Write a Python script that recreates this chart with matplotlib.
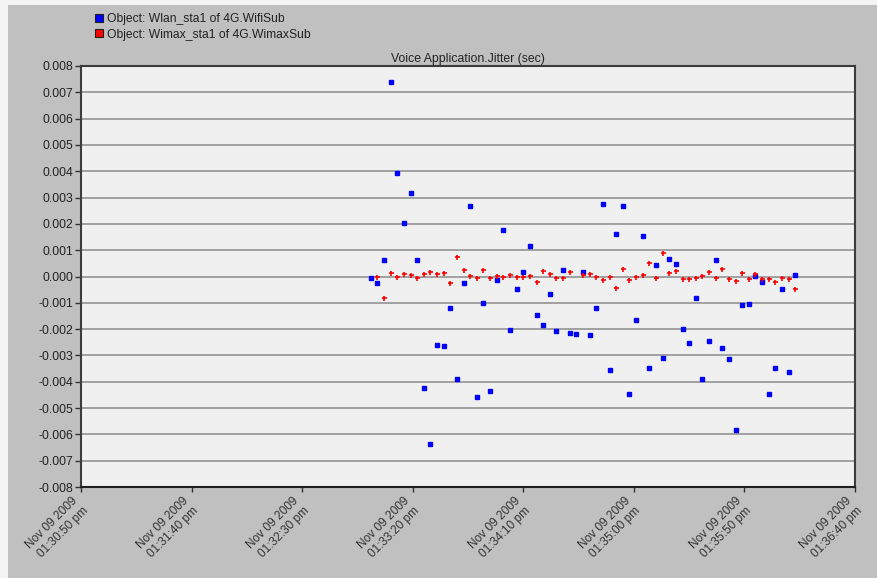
import matplotlib
matplotlib.use("Agg")
import matplotlib.pyplot as plt
from matplotlib.lines import Line2D
from matplotlib.patches import Rectangle
from matplotlib.transforms import ScaledTranslation
import numpy as np
import pandas as pd

plt.rcParams['font.family'] = ['Liberation Sans', 'DejaVu Sans']

title = "Voice Application.Jitter (sec)"
series_names = ["Object: Wlan_sta1 of 4G.WifiSub", "Object: Wimax_sta1 of 4G.WimaxSub"]

start_time = "2009-11-09 13:33:01"
sample_step = "3s"

wlan = [-0.00004, -0.00024, 0.00061, 0.00739, 0.00395, 0.00204, 0.00319, 0.00061,
        -0.00423, -0.00635, -0.00259, -0.00266, -0.00118, -0.00389, -0.00024, 0.00269,
        -0.00457, -0.00100, -0.00436, -0.00013, 0.00175, -0.00202, -0.00049, 0.00018,
        0.00116, -0.00147, -0.00185, -0.00067, -0.00206, 0.00023, -0.00215, -0.00219,
        0.00018, -0.00224, -0.00118, 0.00274, -0.00355, 0.00162, 0.00269, -0.00445,
        -0.00165, 0.00154, -0.00347, 0.00043, -0.00308, 0.00068, 0.00048, -0.00198,
        -0.00253, -0.00080, -0.00389, -0.00244, 0.00061, -0.00270, -0.00312, -0.00584,
        -0.00109, -0.00105, 0.00003, -0.00020, -0.00445, -0.00346, -0.00049, -0.00364,
        0.00006]

wimax = [np.nan, -0.00003, -0.00082, 0.00015, -0.00003, 0.00010, 0.00006, -0.00007,
         0.00010, 0.00019, 0.00010, 0.00015, -0.00023, 0.00073, 0.00023, 0.00001,
         -0.00006, 0.00023, -0.00006, 0.00001, -0.00003, 0.00006, -0.00003, 0.00000,
         0.00003, -0.00020, 0.00022, 0.00009, -0.00004, -0.00004, 0.00018, np.nan,
         0.00004, 0.00009, 0.00000, -0.00013, 0.00000, -0.00042, 0.00027, -0.00013,
         0.00000, 0.00004, 0.00052, -0.00004, 0.00090, 0.00013, 0.00022, -0.00011,
         -0.00008, -0.00004, 0.00001, 0.00018, -0.00004, 0.00030, -0.00011, -0.00016,
         0.00014, -0.00011, 0.00009, -0.00008, -0.00008, -0.00020, -0.00004, -0.00008,
         -0.00046]

x_tick_times = ["2009-11-09 13:30:50", "2009-11-09 13:31:40", "2009-11-09 13:32:30",
                "2009-11-09 13:33:20", "2009-11-09 13:34:10", "2009-11-09 13:35:00",
                "2009-11-09 13:35:50", "2009-11-09 13:36:40"]
x_tick_labels = ["Nov 09 2009\n01:30:50 pm", "Nov 09 2009\n01:31:40 pm", "Nov 09 2009\n01:32:30 pm",
                 "Nov 09 2009\n01:33:20 pm", "Nov 09 2009\n01:34:10 pm", "Nov 09 2009\n01:35:00 pm",
                 "Nov 09 2009\n01:35:50 pm", "Nov 09 2009\n01:36:40 pm"]
y_ticks = [-0.008, -0.007, -0.006, -0.005, -0.004, -0.003, -0.002, -0.001, 0.0,
           0.001, 0.002, 0.003, 0.004, 0.005, 0.006, 0.007, 0.008]

times = pd.date_range(start=start_time, periods=len(wlan), freq=sample_step)
tick_pos = pd.to_datetime(x_tick_times)

W, H = 877, 578
fig = plt.figure(figsize=(W / 100, H / 100), dpi=100)
fig.patch.set_facecolor('#c0c0c0')
fig.patches.append(Rectangle((0, 0), 8 / W, 1, transform=fig.transFigure,
                             facecolor='#f4f4f4', edgecolor='none', zorder=0))
fig.patches.append(Rectangle((0, 1 - 5 / H), 1, 5 / H, transform=fig.transFigure,
                             facecolor='#f4f4f4', edgecolor='none', zorder=0))

ax = fig.add_axes([81 / W, (H - 487) / H, (855 - 81) / W, (487 - 66) / H])
ax.set_facecolor('#f0f0f0')

ax.set_ylim(-0.008, 0.008)
ax.set_xlim(tick_pos[0], tick_pos[-1])
ax.set_yticks(y_ticks)
ax.set_yticklabels([f"{v:.3f}" for v in y_ticks])
ax.set_xticks(tick_pos)
ax.set_xticklabels(x_tick_labels, rotation=45, ha='right', va='center',
                   rotation_mode='anchor', linespacing=1.25)
shift = ScaledTranslation(-6 / 100, 0, fig.dpi_scale_trans)
for lab in ax.get_xticklabels():
    lab.set_transform(lab.get_transform() + shift)

for v in y_ticks[1:-1]:
    ax.axhline(v, color='#9a9a9a', lw=1.3, zorder=1)

ax.plot(times, wlan, linestyle='none', marker='s', markersize=3.0,
        color='#0000ff', mec='#0000ff', zorder=3)
ax.plot(times, wimax, linestyle='none', marker='+', markersize=3.6, mew=1.2,
        color='#ff0000', zorder=4)

for s in ['left', 'top', 'right', 'bottom']:
    ax.spines[s].set_color('#3c3c3c')
    ax.spines[s].set_linewidth(1.5)
ax.spines['bottom'].set_color('#202020')

ax.tick_params(axis='y', length=4, width=1, color='#333333', labelsize=8.8,
               labelcolor='#222222', pad=1.5)
ax.tick_params(axis='x', length=3.6, width=1, color='#333333', labelsize=8.6,
               labelcolor='#333333', pad=8.6)

ax.set_title(title, fontsize=8.8, color='#222222', pad=3)

handles = [Line2D([], [], linestyle='none', marker='s', markersize=6,
                  markerfacecolor='#0000ff', markeredgecolor='#202020', markeredgewidth=0.8),
           Line2D([], [], linestyle='none', marker='s', markersize=6,
                  markerfacecolor='#ff0000', markeredgecolor='#202020', markeredgewidth=0.8)]
leg = fig.legend(handles, series_names, loc='upper left',
                 bbox_to_anchor=(94 / W, 1 - 13 / H), frameon=False, fontsize=8.7,
                 handlelength=0.8, handletextpad=0.28, labelspacing=0.3,
                 borderaxespad=0, borderpad=0)
for t in leg.get_texts():
    t.set_color('#222222')

fig.savefig("out.png", dpi=100, facecolor=fig.get_facecolor())
